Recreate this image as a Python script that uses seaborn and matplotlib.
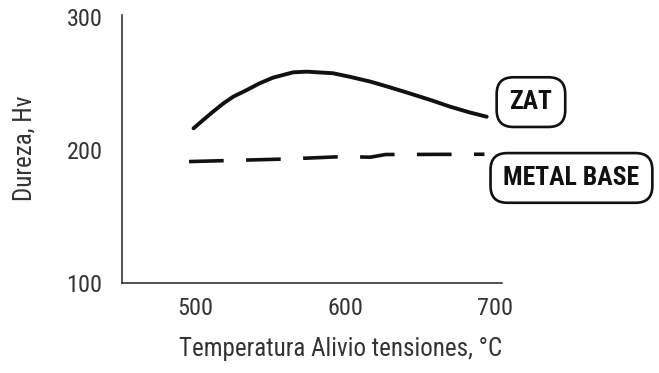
import numpy as np
import pandas as pd
import matplotlib
matplotlib.use("Agg")
import matplotlib.pyplot as plt
import seaborn as sns

# values
zat_temp = [499, 505.5, 512, 519, 525.5, 534.5, 543, 552, 561, 565.5, 574.5,
            592, 603, 617, 630, 643, 657, 670, 683, 694.5]
zat_hv = [216.3, 222.6, 228.8, 235.1, 240.1, 245.1, 250.1, 254.4, 257.1, 258.4,
          258.9, 257.7, 255.1, 251.4, 247.1, 242.6, 237.6, 232.6, 228.3, 225.0]

base_temp = [496, 560, 598, 617, 627, 693]
base_hv = [191.3, 193.2, 195.0, 194.6, 196.6, 196.8]

x_ticks = [500, 600, 700]
y_ticks = [100, 200, 300]

sns.set_style("white")
plt.rcParams['font.family'] = ['Roboto Condensed', 'DejaVu Sans']

df_zat = pd.DataFrame({"Temperatura": zat_temp, "Hv": zat_hv})
df_base = pd.DataFrame({"Temperatura": base_temp, "Hv": base_hv})

fig = plt.figure(figsize=(6.59, 3.73), dpi=100)
ax = fig.add_axes([122 / 659, 1 - 283 / 373, 380 / 659, 268 / 373])

sns.lineplot(data=df_zat, x="Temperatura", y="Hv", ax=ax, color="#111111",
             linewidth=2.8, sort=False, solid_capstyle="round")
sns.lineplot(data=df_base, x="Temperatura", y="Hv", ax=ax, color="#111111",
             linewidth=2.6, sort=False, linestyle=(0, (9.6, 6.2)),
             dash_capstyle="butt")

ax.set_xlim(451.3, 704.7)
ax.set_ylim(100, 301.5)
ax.set_xticks(x_ticks)
ax.set_yticks(y_ticks)
ax.tick_params(length=0, labelsize=17.5, labelcolor="#333333")
ax.tick_params(axis="y", pad=14)
ax.tick_params(axis="x", pad=10)

for side in ["top", "right"]:
    ax.spines[side].set_visible(False)
for side in ["left", "bottom"]:
    ax.spines[side].set_linewidth(1.1)
    ax.spines[side].set_color("#222222")

ax.set_xlabel("Temperatura Alivio tensiones, °C", fontsize=18, color="#333333")
ax.set_ylabel("Dureza, Hv", fontsize=18, color="#333333")
ax.xaxis.set_label_coords(0.574, -0.2)
ax.yaxis.set_label_coords(-0.225, 0.504)

box = dict(boxstyle="round,pad=0.5,rounding_size=0.65", facecolor="white",
           edgecolor="#111111", linewidth=1.9)
label_font = dict(fontsize=18.5, fontweight="bold", color="#111111",
                  ha="center", va="center", clip_on=False)
ax.text(724, 236, "ZAT", bbox=box, **label_font)
ax.text(751, 179, "METAL BASE", bbox=box, **label_font)

fig.savefig("out.png", dpi=100)
